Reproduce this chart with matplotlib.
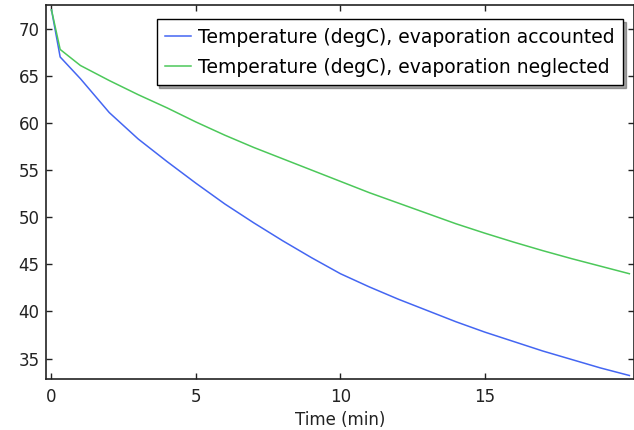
import matplotlib
matplotlib.use("Agg")
import matplotlib.pyplot as plt

# Cooling curves: temperature vs. time
time_min = [0, 0.3, 1, 2, 3, 4, 5, 6, 7, 8, 9, 10,
            11, 12, 13, 14, 15, 16, 17, 18, 19, 20]
temp_evap = [72.0, 67.0, 64.7, 61.1, 58.3, 55.9, 53.6, 51.4, 49.4, 47.5, 45.7, 44.0,
             42.6, 41.3, 40.1, 38.9, 37.8, 36.8, 35.8, 34.9, 34.0, 33.2]
temp_noevap = [72.0, 67.8, 66.1, 64.5, 63.0, 61.6, 60.1, 58.7, 57.4, 56.2, 55.0, 53.8,
               52.6, 51.5, 50.4, 49.3, 48.3, 47.35, 46.45, 45.6, 44.8, 44.0]

labels = ["Temperature (degC), evaporation accounted",
          "Temperature (degC), evaporation neglected"]
x_ticks = [0, 5, 10, 15]
y_ticks = [35, 40, 45, 50, 55, 60, 65, 70]

plt.rcParams["font.family"] = ["DejaVu Sans"]
fig = plt.figure(figsize=(6.34, 4.30), dpi=100)
ax = fig.add_axes([0.0721, 0.118, 1 - 0.0721, 0.988 - 0.118])

ax.plot(time_min, temp_evap, color="#4466f2", lw=1.1, label=labels[0])
ax.plot(time_min, temp_noevap, color="#4cc85a", lw=1.1, label=labels[1])

ax.set_xlim(-0.2, 20.16)
ax.set_ylim(32.8, 72.5)
ax.set_xticks(x_ticks)
ax.set_yticks(y_ticks)
ax.tick_params(direction="in", length=4, width=1, colors="#222222",
               labelsize=12, top=True, right=True)
ax.tick_params(axis="x", pad=6)
ax.tick_params(axis="y", pad=4.5)
for s in ax.spines.values():
    s.set_linewidth(1.2)
    s.set_color("#222222")

ax.set_xlabel("Time (min)", fontsize=12, color="#222222", labelpad=4)

leg = ax.legend(loc="upper right", bbox_to_anchor=(0.981, 0.9626),
                fontsize=13.5, frameon=True, fancybox=False, shadow=True,
                edgecolor="black", framealpha=1, handlelength=1.35,
                handletextpad=0.37, labelspacing=0.58, borderpad=0.46,
                borderaxespad=0)
leg.get_frame().set_linewidth(1.0)

fig.savefig("out.png", dpi=100)
